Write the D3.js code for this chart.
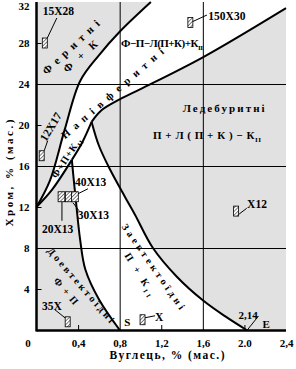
<!DOCTYPE html>
<html><head><meta charset="utf-8">
<script src="https://cdn.jsdelivr.net/npm/d3@7"></script>
<style>
html,body{margin:0;padding:0;background:#fff;}
svg{display:block;font-family:"Liberation Serif","Times New Roman",serif;font-weight:bold;}
</style></head><body>
<svg id="chart" width="296" height="369"></svg>
<script>
'use strict';
// boundary curves as [carbon %, chromium %]
const ferriteLine = [[0,12],[0.13,14.6],[0.27,19.5],[0.42,24.3],[0.6,26.8],[0.8,29.1],[1.1,32]];
const bandLow = [[0,12],[0.15,13.7],[0.34,16.6]];
const bandLowUpper = [[0.34,16.6],[0.44,18.3],[0.53,20.3]];
const eutectoidLine = [[0.34,16.6],[0.355,15],[0.38,12.5],[0.42,8.8],[0.47,5.9],[0.6,3],[0.8,0]];
const ledeburLine = [[0.53,20.3],[0.62,21.4],[0.8,22.5],[1.0,23.5],[1.6,26.6],[2.4,31.4]];
const hyperLine = [[0.53,20.3],[0.6,18],[0.7,15.8],[0.85,13],[0.95,11.2],[1.12,8],[1.35,5.2],[1.6,2.9],[1.82,1.3],[2.02,0]];

// steel grades
const steelNames = ['15X28','150X30','12X17','20X13','30X13','40X13','X12','35X','X'];
const steelC  = [0.08,1.48,0.05,0.24,0.31,0.37,1.92,0.30,1.02];
const steelCr = [28,30,17,13,13,13,11.6,0.8,1.0];

const xTicks = [0,0.4,0.8,1.2,1.6,2.0,2.4];
const xTickLabels = ['0','0,4','0,8','1,2','1,6','2.0','2,4'];
const yTicks = [4,8,12,16,20,24,28,32];
const gridX = [0.8,1.6];
const gridY = [8,16,24];
const minorX = [0.4,1.2,2.0];
const minorY = [4,12,20,28];

const svg = d3.select('#chart');
const x = d3.scaleLinear().domain([0,2.4]).range([36.5,286]);
const y = d3.scaleLinear().domain([0,32]).range([330,2]);
const line = d3.line().x(d=>x(d[0])).y(d=>y(d[1])).curve(d3.curveCatmullRom.alpha(0.5));
const seg = pts => line(pts).replace(/^M/,'L');
const pt = (c,cr) => `${x(c)},${y(cr)}`;
const gray = '#e1e1e1';

const defs = svg.append('defs');
const pat = defs.append('pattern').attr('id','hatch').attr('width',2.6).attr('height',2.6)
  .attr('patternUnits','userSpaceOnUse').attr('patternTransform','rotate(45)');
pat.append('rect').attr('width',2.6).attr('height',2.6).attr('fill','#fff');
pat.append('line').attr('x1',0).attr('y1',0).attr('x2',0).attr('y2',2.6).attr('stroke','#000').attr('stroke-width',1);

// regions
svg.append('path').attr('d',`M${pt(0,32)}L${pt(0,12)}${seg(ferriteLine)}Z`).attr('fill',gray);
svg.append('path').attr('d',`M${pt(0,0)}L${pt(0,12)}${seg(bandLow)}${seg(eutectoidLine)}Z`).attr('fill',gray);
svg.append('path').attr('d',`M${pt(...ledeburLine[0])}${seg(ledeburLine)}L${pt(2.4,0)}${seg(hyperLine.slice().reverse())}Z`).attr('fill',gray);

// grid
const H = y(0)-y(32), W = x(2.4)-x(0);
const gx = svg.append('g').attr('transform',`translate(0,${y(0)})`)
  .call(d3.axisBottom(x).tickValues(gridX).tickSize(-H).tickFormat(''));
const gy = svg.append('g').attr('transform',`translate(${x(0)},0)`)
  .call(d3.axisLeft(y).tickValues(gridY).tickSize(-W).tickFormat(''));
const mx = svg.append('g').attr('transform',`translate(0,${y(0)})`)
  .call(d3.axisBottom(x).tickValues(minorX).tickSize(-5).tickFormat(''));
const my = svg.append('g').attr('transform',`translate(${x(0)},0)`)
  .call(d3.axisLeft(y).tickValues(minorY).tickSize(-5).tickFormat(''));
[gx,gy,mx,my].forEach(g => { g.select('.domain').remove(); g.selectAll('line').attr('stroke','#000').attr('stroke-width',1); });

// boundaries
[ferriteLine,bandLow,bandLowUpper,eutectoidLine,ledeburLine,hyperLine].forEach(p => {
  svg.append('path').attr('d',line(p)).attr('fill','none').attr('stroke','#000').attr('stroke-width',2);
});

// axes frame
svg.append('line').attr('x1',x(0)).attr('x2',x(0)).attr('y1',y(32)).attr('y2',y(0)+1.5).attr('stroke','#000').attr('stroke-width',2.5);
svg.append('line').attr('x1',x(0)).attr('x2',x(2.4)).attr('y1',y(0)+0.5).attr('y2',y(0)+0.5).attr('stroke','#000').attr('stroke-width',2.5);

// tick labels
const ay = svg.append('g').attr('transform',`translate(${x(0)},0)`)
  .call(d3.axisLeft(y).tickValues(yTicks).tickSize(0).tickPadding(7));
const ax = svg.append('g').attr('transform',`translate(0,${y(0)})`)
  .call(d3.axisBottom(x).tickValues(xTicks).tickSize(0).tickPadding(9).tickFormat((d,i)=>xTickLabels[i]));
[ax,ay].forEach(g => { g.select('.domain').remove(); g.selectAll('text').attr('font-family','"Liberation Serif",serif').attr('font-size',11).attr('font-weight','bold').attr('fill','#000'); });
ax.selectAll('text').filter(d=>d===0).attr('dx',-9);
ay.selectAll('text').filter(d=>d===32).attr('dy','0.72em');

// text helper, parts = [text, isSub]
function label(parts, px, py, opt) {
  const t = svg.append('text').attr('transform',`translate(${px},${py}) rotate(${opt.rot||0})`)
    .attr('text-anchor',opt.anchor||'middle').attr('font-size',opt.size||11).attr('dy',opt.dy==null?'0.35em':opt.dy);
  if (opt.len) t.attr('textLength',opt.len).attr('lengthAdjust','spacing');
  parts.forEach(p => {
    if (p[1]) t.append('tspan').attr('font-size',(opt.size||11)*0.65).attr('dy',3).text(p[0]);
    else t.append('tspan').text(p[0]);
  });
  return t;
}
const regionLabels = [
  {parts:[['Феритні']], c:0.33, cr:27.6, rot:-43, len:74, size:11},
  {parts:[['Ф + К']], c:0.42, cr:26.7, rot:-42, len:42, size:11},
  {parts:[['Напівферитні']], c:0.73, cr:23.1, rot:-41, len:132, size:10.5},
  {parts:[['Ф+П+К'],['II',1]], c:0.284, cr:16.8, rot:-57, len:46, size:10},
  {parts:[['Ф−П−Л(П+К)+К'],['II',1]], c:1.207, cr:28.0, rot:0, len:82, size:11},
  {parts:[['Ледебуритні']], c:1.80, cr:21.66, rot:0, len:82, size:11},
  {parts:[['П + Л ( П + К ) − К'],['II',1]], c:1.64, cr:19.0, rot:0, len:108, size:11},
  {parts:[['Заевтектоїдні']], c:1.125, cr:6.2, rot:55, len:102, size:10},
  {parts:[['П + К'],['II',1]], c:0.996, cr:5.46, rot:58, len:48, size:10},
  {parts:[['Доевтектоїдні']], c:0.428, cr:4.39, rot:49, len:96, size:10},
  {parts:[['Ф + П']], c:0.284, cr:3.8, rot:50, len:32, size:10}
];
regionLabels.forEach(l => label(l.parts, x(l.c), y(l.cr), l));

// steel markers with leaders: label offset, leader from/to (relative to marker centre)
const steelLayout = [
  {lx:-2, ly:-28, a:'start', f:[2.5,-5], t:[12,-25]},
  {lx:18, ly:-3, a:'start', f:[2.5,-1], t:[16.6,-7.5]},
  {lx:9, ly:-29, a:'middle', rot:-59, f:[2.5,-5], t:[6,-15]},
  {lx:-19.5, ly:36, a:'start', f:[0.5,5], t:[0.5,24]},
  {lx:9, ly:22, a:'start', f:[4.3,6], t:[10.3,14]},
  {lx:0, ly:-11, a:'start', f:[3,-3], t:[13,-8]},
  {lx:11, ly:-3, a:'start', f:[3,3], t:[10.6,-2.8]},
  {lx:-25.7, ly:-12, a:'start', f:[-12.7,-12], t:[-2.7,-4]},
  {lx:12.5, ly:1, a:'start', f:[2.5,-2], t:[12.5,-4]}
];
steelNames.forEach((name,i) => {
  const cx = x(steelC[i]), cy = y(steelCr[i]), L = steelLayout[i];
  const w = (i>=3 && i<=5) ? 6.7 : 5;
  svg.append('rect').attr('x',cx-w/2).attr('y',cy-5).attr('width',w).attr('height',10)
    .attr('fill','url(#hatch)').attr('stroke','#000').attr('stroke-width',0.8);
  svg.append('line').attr('x1',cx+L.f[0]).attr('y1',cy+L.f[1]).attr('x2',cx+L.t[0]).attr('y2',cy+L.t[1])
    .attr('stroke','#000').attr('stroke-width',1);
  label([[name]], cx+L.lx, cy+L.ly, {anchor:L.a, rot:L.rot, size:11.5, dy: L.rot ? '0.35em' : 0});
});

// point labels
label([['S']], x(0.8)+4.5, y(0)-4, {anchor:'start', size:11, dy:0});
label([['E']], x(2.02)+16, y(0)-2, {anchor:'start', size:11, dy:0});
label([['2,14']], x(2.02)-8, y(0)-11, {anchor:'start', size:11, dy:0});
svg.append('line').attr('x1',x(2.02)).attr('y1',y(0)+1).attr('x2',x(2.02)+12).attr('y2',y(0)-14).attr('stroke','#000').attr('stroke-width',1);

// axis titles
label([['Вуглець, % (мас.)']], 167, 355, {size:11.5, len:115});
label([['Хром, % (мас.)']], 9, 173, {size:11, rot:-90, len:107});
</script>
</body></html>
